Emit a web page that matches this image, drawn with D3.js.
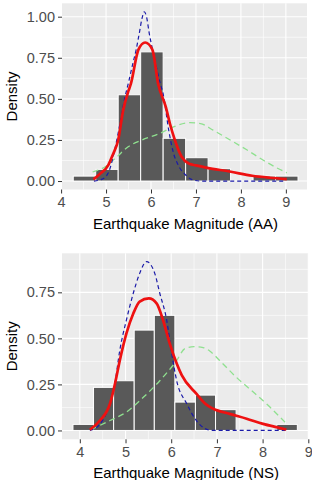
<!DOCTYPE html>
<meta charset="utf-8">
<style>
body { margin: 0; background: #fff; }
text { font-family: "Liberation Sans", Arial, sans-serif; }
.tick text { fill: #4d4d4d; font-size: 14.5px; }
.tick line { stroke: #333; }
.axis-title { fill: #000; font-size: 15px; }
</style>
<body>
<script src="https://d3js.org/d3.v7.min.js"></script>
<script>

// ---- top panel: AA ----
var binsAA = [4.27, 4.77, 5.27, 5.77, 6.27, 6.77, 7.27, 7.77, 8.27, 8.77, 9.27];
var densAA = [0.03, 0.071, 0.525, 0.786, 0.26, 0.142, 0.075, 0, 0.03, 0.03];

var redAA = [[4.72, 0.01], [4.85, 0.04], [5.05, 0.097], [5.15, 0.16], [5.27, 0.25], [5.38, 0.43], [5.5, 0.55],
    [5.55, 0.59], [5.72, 0.8], [5.87, 0.843], [6.03, 0.8], [6.16, 0.59], [6.33, 0.45], [6.42, 0.35],
    [6.53, 0.25], [6.68, 0.148], [6.85, 0.105], [7.0, 0.095], [7.25, 0.08], [7.75, 0.058],
    [8.25, 0.032], [8.65, 0.02], [9.02, 0.012]];
var blueAA = [[4.73, 0], [4.9, 0.01], [5.05, 0.05], [5.2, 0.2], [5.31, 0.35], [5.42, 0.51], [5.5, 0.6],
    [5.6, 0.72], [5.67, 0.8], [5.74, 0.9], [5.8, 0.99], [5.85, 1.03], [5.9, 1.0], [5.96, 0.9],
    [6.05, 0.78], [6.2, 0.6], [6.27, 0.53], [6.4, 0.3], [6.5, 0.17], [6.6, 0.1], [6.76, 0.04],
    [6.9, 0.01], [7.1, 0.0], [9.0, 0]];
var greenAA = [[4.7, 0.055], [5.0, 0.09], [5.25, 0.15], [5.5, 0.21], [5.8, 0.25], [6.2, 0.29], [6.5, 0.33],
    [6.87, 0.355], [7.1, 0.35], [7.38, 0.31], [7.76, 0.25], [8.13, 0.19], [8.49, 0.128],
    [8.8, 0.08], [9.02, 0.05]];

// ---- bottom panel: NS ----
var binsNS = [3.85, 4.30, 4.74, 5.19, 5.63, 6.08, 6.53, 6.97, 7.42, 7.86, 8.31, 8.76];
var densNS = [0.033, 0.234, 0.27, 0.545, 0.625, 0.154, 0.192, 0.113, 0, 0, 0.033];

var redNS = [[4.22, 0.004], [4.44, 0.054], [4.66, 0.145], [4.77, 0.254], [4.875, 0.38], [5.02, 0.527],
    [5.17, 0.635], [5.31, 0.7], [5.51, 0.717], [5.68, 0.69], [5.82, 0.6], [5.97, 0.47],
    [6.12, 0.363], [6.23, 0.3], [6.55, 0.2], [6.77, 0.14], [6.92, 0.118], [7.28, 0.09],
    [7.65, 0.064], [8.01, 0.036], [8.3, 0.018], [8.52, 0.005]];
var blueNS = [[4.22, 0], [4.33, 0.01], [4.51, 0.06], [4.66, 0.145], [4.77, 0.26], [4.875, 0.436],
    [5.02, 0.6], [5.17, 0.745], [5.31, 0.853], [5.46, 0.917], [5.64, 0.853], [5.75, 0.745],
    [5.9, 0.6], [6.0, 0.436], [6.12, 0.27], [6.34, 0.145], [6.55, 0.054], [6.74, 0.01],
    [6.9, 0], [8.5, 0]];
var greenNS = [[4.25, 0.005], [4.66, 0.054], [5.02, 0.1], [5.39, 0.18], [5.75, 0.27], [6.12, 0.38],
    [6.3, 0.445], [6.5, 0.455], [6.7, 0.45], [6.85, 0.43], [7.06, 0.38], [7.42, 0.29],
    [7.79, 0.21], [8.16, 0.127], [8.49, 0.045]];

var xTicks = [4, 5, 6, 7, 8, 9];
var yTicks = [0, 0.25, 0.5, 0.75, 1.0];

var svg = d3.select("body").append("svg")
    .attr("width", 312)
    .attr("height", 480);

function panel(opt) {
    var x = d3.scaleLinear().domain(opt.xdom).range([62, opt.right]);
    var y = d3.scaleLinear().domain(opt.ydom).range([opt.bottom, opt.top]);
    var g = svg.append("g");

    // background
    g.append("rect")
        .attr("x", 62).attr("y", opt.top)
        .attr("width", opt.right - 62).attr("height", opt.bottom - opt.top)
        .attr("fill", "#ebebeb");

    var yt = yTicks.filter(function (d) { return d <= opt.ydom[1]; });
    var xt = xTicks.filter(function (d) { return d <= opt.xdom[1] + 0.01; });

    // minor grid
    var xminor = xt.map(function (d) { return d + 0.5; }).filter(function (d) { return d < opt.xdom[1]; });
    if (opt.xdom[0] < 3.5) xminor.unshift(3.5);
    var yminor = yt.map(function (d) { return d + 0.125; }).filter(function (d) { return d < opt.ydom[1]; });
    g.selectAll(".xmin").data(xminor).enter().append("line")
        .attr("x1", x).attr("x2", x).attr("y1", opt.top).attr("y2", opt.bottom)
        .attr("stroke", "#fff").attr("stroke-width", 0.6);
    g.selectAll(".ymin").data(yminor).enter().append("line")
        .attr("x1", 62).attr("x2", opt.right).attr("y1", y).attr("y2", y)
        .attr("stroke", "#fff").attr("stroke-width", 0.6);
    // major grid
    g.selectAll(".xmaj").data(xt).enter().append("line")
        .attr("x1", x).attr("x2", x).attr("y1", opt.top).attr("y2", opt.bottom)
        .attr("stroke", "#fff").attr("stroke-width", 1.1);
    g.selectAll(".ymaj").data(yt).enter().append("line")
        .attr("x1", 62).attr("x2", opt.right).attr("y1", y).attr("y2", y)
        .attr("stroke", "#fff").attr("stroke-width", 1.1);

    // histogram bars
    var bars = [];
    opt.dens.forEach(function (d, i) {
        if (d > 0) bars.push({x0: opt.bins[i], x1: opt.bins[i + 1], d: d});
    });
    g.selectAll(".hb").data(bars).enter().append("rect")
        .attr("x", function (d) { return x(d.x0); })
        .attr("y", function (d) { return y(d.d); })
        .attr("width", function (d) { return x(d.x1) - x(d.x0); })
        .attr("height", function (d) { return y(0) - y(d.d); })
        .attr("fill", "#595959")
        .attr("stroke", "#fff")
        .attr("stroke-width", 1);

    var line = d3.line()
        .curve(d3.curveMonotoneX)
        .x(function (d) { return x(d[0]); })
        .y(function (d) { return y(d[1]); });

    g.append("path").attr("d", line(opt.green))
        .attr("fill", "none").attr("stroke", "#8fe08f")
        .attr("stroke-width", 1.3).attr("stroke-dasharray", "6,4");
    g.append("path").attr("d", line(opt.blue))
        .attr("fill", "none").attr("stroke", "#1a1aa8")
        .attr("stroke-width", 1.2).attr("stroke-dasharray", "4,3");
    g.append("path").attr("d", line(opt.red))
        .attr("fill", "none").attr("stroke", "#ee1111")
        .attr("stroke-width", 2.7);

    // axes
    g.append("g")
        .attr("transform", "translate(62,0)")
        .call(d3.axisLeft(y).tickValues(yt).tickFormat(d3.format(".2f")).tickSize(4).tickPadding(3))
        .call(function (s) { s.select(".domain").remove(); });
    g.append("g")
        .attr("transform", "translate(0," + opt.bottom + ")")
        .call(d3.axisBottom(x).tickValues(xt).tickFormat(d3.format("d")).tickSize(4).tickPadding(3))
        .call(function (s) { s.select(".domain").remove(); });

    g.append("text").attr("class", "axis-title")
        .attr("x", (62 + opt.right) / 2 + 1).attr("y", opt.bottom + 39)
        .attr("text-anchor", "middle")
        .text(opt.xlabel);
    g.append("text").attr("class", "axis-title")
        .attr("transform", "translate(17," + (opt.top + opt.bottom) / 2 + ") rotate(-90)")
        .attr("text-anchor", "middle")
        .text("Density");
}

panel({xdom: [4.02, 9.47], ydom: [-0.0515, 1.0815], top: 3.3, bottom: 189.5, right: 307,
    bins: binsAA, dens: densAA, red: redAA, blue: blueAA, green: greenAA,
    xlabel: "Earthquake Magnitude (AA)"});
panel({xdom: [3.61, 9.0], ydom: [-0.048, 0.962], top: 253.3, bottom: 439.3, right: 308.3,
    bins: binsNS, dens: densNS, red: redNS, blue: blueNS, green: greenNS,
    xlabel: "Earthquake Magnitude (NS)"});

</script>
</body>
